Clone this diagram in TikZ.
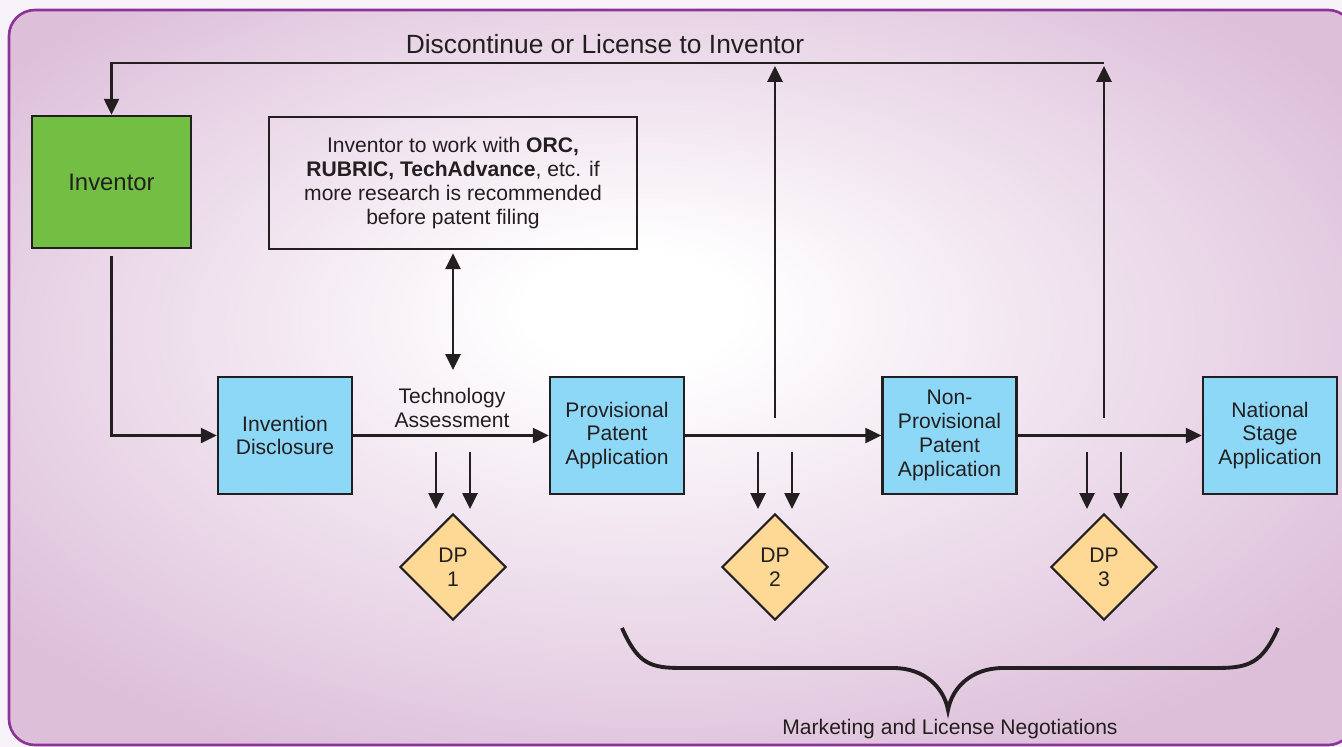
\documentclass[tikz,border=0pt]{standalone}
\usepackage{fontspec}
\setmainfont{Liberation Sans}
\usepackage{tikz}
\usetikzlibrary{positioning,shapes.geometric,arrows.meta,calc}

\definecolor{inventorgreen}{HTML}{72BF44}
\definecolor{stepblue}{HTML}{8DD8F6}
\definecolor{dpyellow}{HTML}{FED995}
\definecolor{bgpurple}{HTML}{DDBFDA}
\definecolor{rimpurple}{HTML}{8C3399}
\definecolor{paper}{HTML}{F8F3F8}
\definecolor{ink}{HTML}{231F20}
\pgfdeclareradialshading{bgglow}{\pgfpoint{-2bp}{5bp}}{color(0bp)=(white); color(4bp)=(white); color(31bp)=(bgpurple); color(50bp)=(bgpurple)}

\begin{document}
\begin{tikzpicture}[x=0.02cm, y=-0.02cm, text=ink,
    stepbox/.style={draw=ink, line width=1.5pt, fill=stepblue, minimum width=2.68cm, minimum height=2.34cm,
        inner sep=0pt, align=center, font=\fontsize{12}{13.6}\selectfont},
    dpbox/.style={diamond, draw=ink, line width=1.2pt, fill=dpyellow, minimum width=2.12cm, minimum height=2.12cm,
        inner sep=0pt, align=center, font=\fontsize{12}{13.6}\selectfont},
    arr/.style={line width=1.35pt, draw=ink, -{Triangle[length=9pt,width=8.5pt]}},
    lbl/.style={align=center, font=\fontsize{12}{13.6}\selectfont}]

    % Draw page and board
    \clip (0,0) rectangle (1342,747);
    \fill[paper] (0,0) rectangle (1342,747);
    \path[shading=bgglow, draw=rimpurple, line width=1.5pt, rounded corners=0.52cm] (9,10) rectangle (1354,745);

    % Draw inventor and research boxes
    \node[draw=ink, line width=1.5pt, fill=inventorgreen, minimum width=3.18cm, minimum height=2.64cm,
        font=\fontsize{13.6}{15}\selectfont] (inv) at (111.5,182) {Inventor};
    \node[draw=ink, line width=1.4pt, minimum width=7.36cm, minimum height=2.64cm, inner sep=0pt, lbl] (research) at (453,183)
        {Inventor to work with \textbf{ORC,}\\ \textbf{RUBRIC, TechAdvance}, etc. if\\ more research is recommended\\ before patent filing};

    % Draw patent steps
    \node[stepbox] (disc) at (285,435.5) {Invention\\Disclosure};
    \node[stepbox] (prov) at (617,435.5) {Provisional\\Patent\\Application};
    \node[stepbox] (nonprov) at (949.5,435.5) {Non-\\Provisional\\Patent\\Application};
    \node[stepbox] (natl) at (1270,435.5) {National\\Stage\\Application};

    % Draw decision points
    \node[dpbox] (dp1) at (453,567) {DP\\1};
    \node[dpbox] (dp2) at (775,567) {DP\\2};
    \node[dpbox] (dp3) at (1104,567) {DP\\3};

    % Draw labels
    \node[font=\fontsize{15}{17}\selectfont] (discont) at (605,44) {Discontinue or License to Inventor};
    \node[lbl] (techlbl) at (452,408) {Technology\\Assessment};
    \node[lbl] (mkt) at (950,729) {Marketing and License Negotiations};

    % Draw main flow
    \draw[arr] ([yshift=-0.14cm]inv.south) |- (disc.west);
    \draw[arr] (disc.east) -- (prov.west);
    \draw[arr] (prov.east) -- (nonprov.west);
    \draw[arr] (nonprov.east) -- (natl.west);
    \draw[line width=1.35pt, draw=ink, {Triangle[length=9pt,width=8.5pt]}-{Triangle[length=9pt,width=8.5pt]}]
        ([yshift=-0.06cm]research.south) -- (453,370);

    % Draw discontinue loop
    \coordinate (turn2) at (775,63);
    \coordinate (turn3) at (1104,63);
    \coordinate (lic2) at (775,418);
    \coordinate (lic3) at (1104,418);
    \draw[arr] (turn3) -| (inv.north);
    \draw[arr] (lic2) -- ([yshift=-0.06cm]turn2);
    \draw[arr] (lic3) -- ([yshift=-0.06cm]turn3);

    % Draw arrows into decision points
    \foreach \d in {dp1,dp2,dp3}{
        \draw[arr] ([xshift=-0.34cm,yshift=1.22cm]\d.north) -- ([xshift=-0.34cm,yshift=0.08cm]\d.north);
        \draw[arr] ([xshift=0.34cm,yshift=1.22cm]\d.north) -- ([xshift=0.34cm,yshift=0.08cm]\d.north);
    }

    % Draw brace
    \draw[ink, line width=2.2pt] (622,628) .. controls (638,664) and (650,668) .. (682,668) -- (893,668)
        .. controls (925,668) and (944,688) .. (948,710)
        .. controls (952,688) and (971,668) .. (1003,668) -- (1216,668)
        .. controls (1248,668) and (1262,664) .. (1278,628);
\end{tikzpicture}
\end{document}
